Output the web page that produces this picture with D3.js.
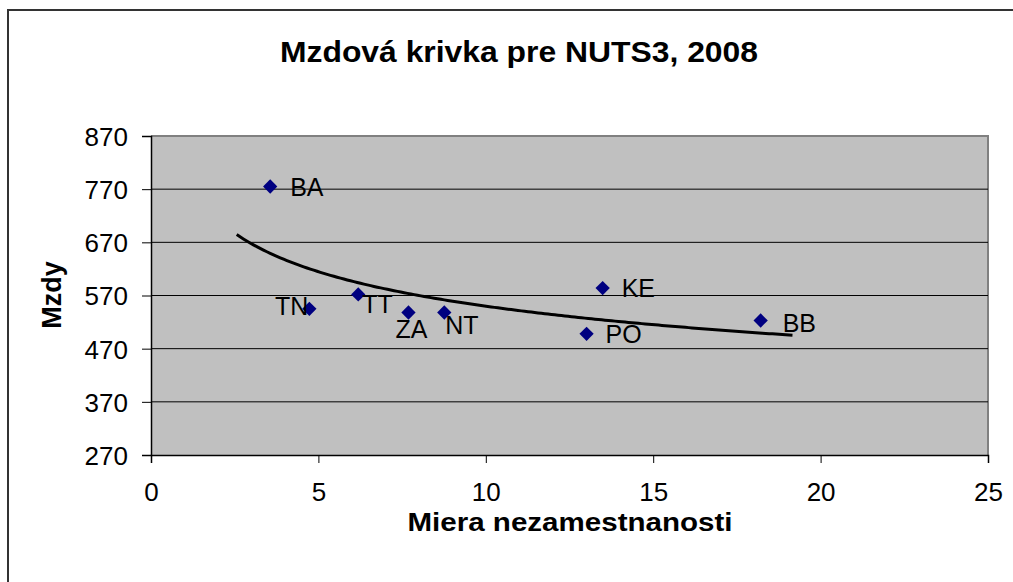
<!DOCTYPE html>
<html lang="sk">
<head>
    <meta charset="UTF-8">
    <title>Mzdová krivka pre NUTS3, 2008</title>
    <style>
        body { margin: 0; background: #fff; overflow: hidden; }
        text { font-family: Arial, "Liberation Sans", sans-serif; fill: #000; }
    </style>
</head>
<body>
    <svg id="chart" width="1013" height="582"></svg>
    <script src="https://d3js.org/d3.v7.min.js"></script>
    <script>
        // data
        const regions = ["BA", "TN", "TT", "ZA", "NT", "PO", "KE", "BB"];
        const unemployment = [3.56, 4.73, 6.19, 7.69, 8.76, 13.01, 13.49, 18.21];
        const wages = [775, 545, 572, 538, 538, 498, 584, 523];
        const xTicks = [0, 5, 10, 15, 20, 25];
        const yTicks = [270, 370, 470, 570, 670, 770, 870];

        // where each data label sits relative to its point
        const labelPlace = {
            BA: { dx: 20, dy: 9, anchor: "start" },
            TN: { dx: -1, dy: 6, anchor: "end" },
            TT: { dx: 4, dy: 19, anchor: "start" },
            ZA: { dx: -13, dy: 25, anchor: "start" },
            NT: { dx: 1, dy: 21, anchor: "start" },
            PO: { dx: 19, dy: 9, anchor: "start" },
            KE: { dx: 19, dy: 9, anchor: "start" },
            BB: { dx: 22, dy: 12, anchor: "start" }
        };

        const svg = d3.select("#chart");
        const plot = { left: 151, top: 136, right: 988, bottom: 455 };

        const x = d3.scaleLinear().domain([0, 25]).range([plot.left, plot.right]);
        const y = d3.scaleLinear().domain([270, 870]).range([plot.bottom, plot.top]);

        // outer chart frame (runs off the right and bottom edges)
        svg.append("rect")
            .attr("x", 8).attr("y", 10)
            .attr("width", 1100).attr("height", 700)
            .attr("fill", "#fff")
            .attr("stroke", "#333").attr("stroke-width", 2);

        // plot area
        svg.append("rect")
            .attr("x", plot.left).attr("y", plot.top)
            .attr("width", plot.right - plot.left)
            .attr("height", plot.bottom - plot.top)
            .attr("fill", "#c0c0c0");
        svg.append("path")
            .attr("d", `M${plot.left},${plot.top}H${plot.right}V${plot.bottom}`)
            .attr("fill", "none")
            .attr("stroke", "#808080").attr("stroke-width", 2);

        // gridlines
        svg.append("g")
            .selectAll("line")
            .data(yTicks.slice(1, -1))
            .join("line")
                .attr("x1", plot.left).attr("x2", plot.right)
                .attr("y1", d => y(d)).attr("y2", d => y(d))
                .attr("stroke", "#000").attr("stroke-width", 1);

        // axes
        const xAxis = svg.append("g")
            .attr("transform", `translate(0,${plot.bottom})`)
            .call(d3.axisBottom(x).tickValues(xTicks).tickSize(8).tickPadding(20).tickFormat(d3.format("d")));
        const yAxis = svg.append("g")
            .attr("transform", `translate(${plot.left},0)`)
            .call(d3.axisLeft(y).tickValues(yTicks).tickSize(9).tickPadding(14).tickFormat(d3.format("d")));
        [xAxis, yAxis].forEach(a => {
            a.select(".domain").attr("stroke", "#000").attr("stroke-width", 1.5);
            a.selectAll(".tick line").attr("stroke", "#000");
            a.selectAll(".tick text")
                .attr("font-size", 26)
                .attr("font-family", "Arial, 'Liberation Sans', sans-serif")
                .attr("fill", "#000");
        });
        yAxis.selectAll(".tick text").attr("dy", "0.36em");

        // power trendline fitted to the points (Excel style, 1 unit backward/forward)
        const pts = regions.map((r, i) => ({ name: r, ux: unemployment[i], w: wages[i] }));
        const lx = pts.map(p => Math.log(p.ux)), ly = pts.map(p => Math.log(p.w));
        const mx = d3.mean(lx), my = d3.mean(ly);
        const b = d3.sum(lx, (v, i) => (v - mx) * (ly[i] - my)) / d3.sum(lx, v => (v - mx) * (v - mx));
        const a = Math.exp(my - b * mx);
        const [xmin, xmax] = d3.extent(unemployment);
        const trend = d3.range(xmin - 1, xmax + 1 + 0.001, 0.1).map(v => [v, a * Math.pow(v, b)]);

        // markers
        svg.append("g")
            .selectAll("path")
            .data(pts)
            .join("path")
                .attr("d", d3.symbol(d3.symbolDiamond2, 130))
                .attr("transform", d => `translate(${x(d.ux)},${y(d.w)})`)
                .attr("fill", "#000080");

        svg.append("path")
            .datum(trend)
            .attr("d", d3.line().x(d => x(d[0])).y(d => y(d[1])))
            .attr("fill", "none")
            .attr("stroke", "#000").attr("stroke-width", 3);

        // data labels
        svg.append("g")
            .selectAll("text")
            .data(pts)
            .join("text")
                .attr("x", d => x(d.ux) + labelPlace[d.name].dx)
                .attr("y", d => y(d.w) + labelPlace[d.name].dy)
                .attr("text-anchor", d => labelPlace[d.name].anchor)
                .attr("font-size", 25)
                .text(d => d.name);

        // titles
        svg.append("text")
            .attr("x", 519).attr("y", 62)
            .attr("text-anchor", "middle")
            .attr("font-size", 29).attr("font-weight", "bold")
            .attr("textLength", 478).attr("lengthAdjust", "spacingAndGlyphs")
            .text("Mzdová krivka pre NUTS3, 2008");

        svg.append("text")
            .attr("x", 570).attr("y", 531)
            .attr("text-anchor", "middle")
            .attr("font-size", 26).attr("font-weight", "bold")
            .attr("textLength", 325).attr("lengthAdjust", "spacingAndGlyphs")
            .text("Miera nezamestnanosti");

        svg.append("text")
            .attr("transform", "translate(61,295) rotate(-90)")
            .attr("text-anchor", "middle")
            .attr("font-size", 27).attr("font-weight", "bold")
            .text("Mzdy");
    </script>
</body>
</html>
